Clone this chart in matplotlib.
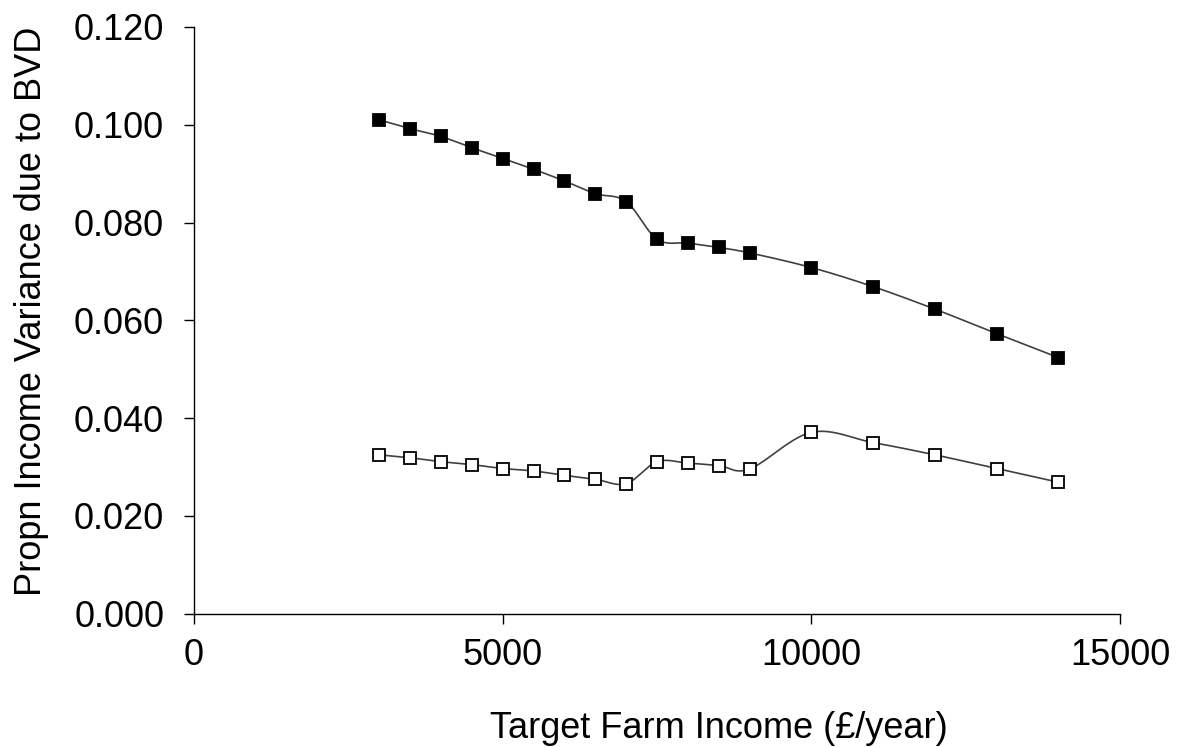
import numpy as np
import matplotlib
matplotlib.use("Agg")
import matplotlib.pyplot as plt

# ---------------------------------------------------------
# Datos
# ---------------------------------------------------------
ingreso = [3000, 3500, 4000, 4500, 5000, 5500, 6000, 6500, 7000,
           7500, 8000, 8500, 9000, 10000, 11000, 12000, 13000, 14000]

serie_llena = [0.1010, 0.0992, 0.0976, 0.0953, 0.0931, 0.0909, 0.0885, 0.0859, 0.0843,
               0.0766, 0.0758, 0.0749, 0.0738, 0.0708, 0.0669, 0.0623, 0.0573, 0.0524]

serie_vacia = [0.0325, 0.0319, 0.0311, 0.0305, 0.0297, 0.0292, 0.0283, 0.0275, 0.0266,
               0.0311, 0.0308, 0.0303, 0.0296, 0.0371, 0.0350, 0.0325, 0.0297, 0.0269]


# ---------------------------------------------------------
# Curva suavizada (Bezier tipo Excel) entre los puntos
# ---------------------------------------------------------
def suavizar(xs, ys, n=30):
    xs = np.asarray(xs, float)
    ys = np.asarray(ys, float)
    px, py = [], []
    for i in range(len(xs) - 1):
        i0 = max(i - 1, 0)
        i3 = min(i + 2, len(xs) - 1)
        c1x = xs[i] + (xs[i + 1] - xs[i0]) / 6
        c1y = ys[i] + (ys[i + 1] - ys[i0]) / 6
        c2x = xs[i + 1] - (xs[i3] - xs[i]) / 6
        c2y = ys[i + 1] - (ys[i3] - ys[i]) / 6
        t = np.linspace(0, 1, n)
        a, b, c, d = (1 - t) ** 3, 3 * (1 - t) ** 2 * t, 3 * (1 - t) * t ** 2, t ** 3
        px.extend(a * xs[i] + b * c1x + c * c2x + d * xs[i + 1])
        py.extend(a * ys[i] + b * c1y + c * c2y + d * ys[i + 1])
    return px, py


plt.rcParams["font.family"] = ["Liberation Sans", "DejaVu Sans"]

fig = plt.figure(figsize=(11.81, 7.47), dpi=100)
ax = fig.add_axes([0.1643, 0.1784, 0.7841, 0.7855])

for ys, relleno in [(serie_llena, "black"), (serie_vacia, "white")]:
    sx, sy = suavizar(ingreso, ys)
    ax.plot(sx, sy, color="#404040", linewidth=1.2, zorder=2)
    ax.plot(ingreso, ys, linestyle="none", marker="s", markersize=8.3,
            markerfacecolor=relleno, markeredgecolor="black",
            markeredgewidth=1.3, zorder=3)

ax.set_xlim(0, 15000)
ax.set_ylim(0, 0.120)
ax.set_xticks([0, 5000, 10000, 15000])
ax.set_yticks(np.arange(0, 0.121, 0.02))
ax.yaxis.set_major_formatter(matplotlib.ticker.FormatStrFormatter("%.3f"))

for lado in ["top", "right"]:
    ax.spines[lado].set_visible(False)
for lado in ["left", "bottom"]:
    ax.spines[lado].set_linewidth(1.0)

ax.tick_params(direction="out", length=7.5, width=1.0, labelsize=26)
ax.tick_params(axis="y", pad=14)
ax.tick_params(axis="x", pad=10)

ax.set_xlabel("Target Farm Income (£/year)", fontsize=26, labelpad=27)
ax.set_ylabel("Propn Income Variance due to BVD", fontsize=26, labelpad=18)
# en el original los títulos de eje no están centrados
ax.xaxis.label.set_x(0.567)
ax.yaxis.label.set_y(0.516)

fig.savefig("out.png", dpi=100)
plt.close(fig)
